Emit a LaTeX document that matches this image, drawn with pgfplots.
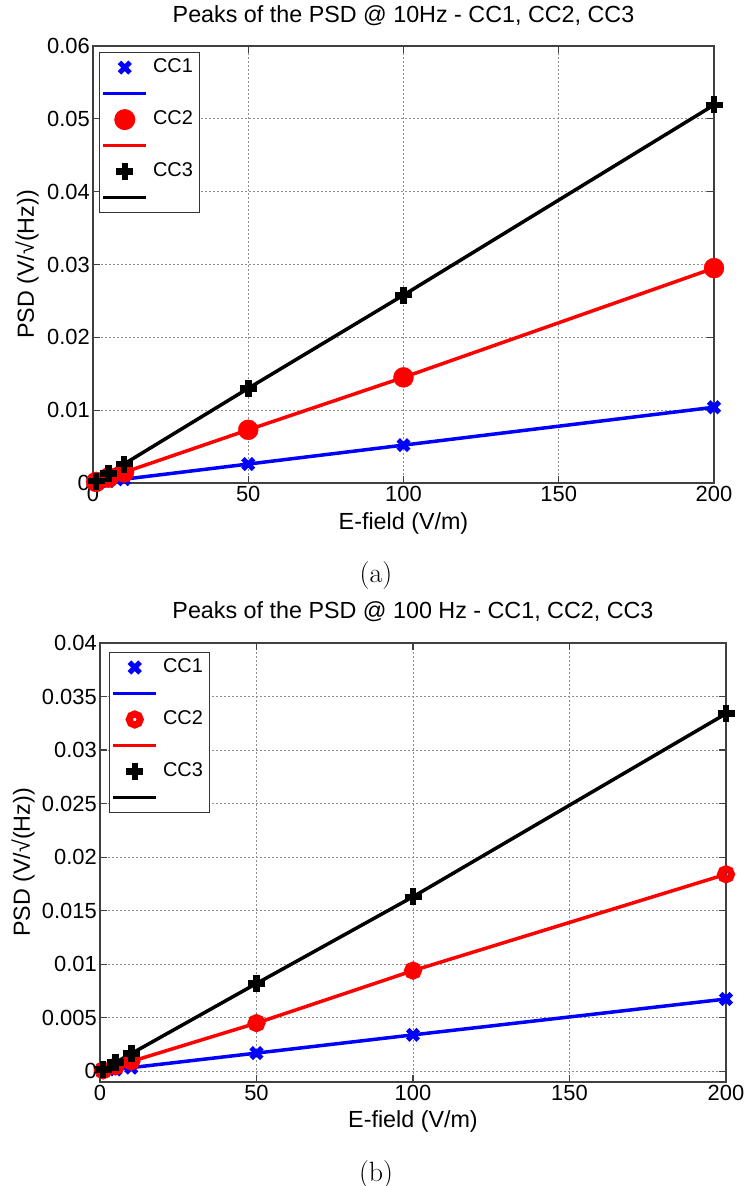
\documentclass[border=0pt]{standalone}
\usepackage{pgfplots}
\pgfplotsset{compat=1.18}
\usepackage{fontspec}
\newfontfamily\arialf{Liberation Sans}
\begin{document}
\begin{tikzpicture}
\useasboundingbox (0bp,0bp) rectangle (747bp,1186bp);
\pgfplotsset{
  mleg/.style={legend image code/.code={\draw[##1] plot coordinates {(21.5bp,0bp)};}},
  lleg/.style={legend image code/.code={\draw[##1] (0bp,0bp) -- (43bp,0bp);}},
  matstyle/.style={
    scale only axis, clip=false,
    scaled ticks=false,
    font=\arialf\fontsize{23.4}{25}\selectfont,
    ticklabel style={font=\arialf\fontsize{22}{24}\selectfont},
    /pgf/number format/assume math mode=true,
    axis line style={black!75, line width=1.2bp},
    every tick/.style={black!75, line width=1.2bp},
    major tick length=7bp,
    tick align=inside,
    grid=major,
    major grid style={black!45, line width=1bp, dash pattern=on 1.5bp off 2.5bp},
    xmin=0, xmax=200, xtick={0,50,100,150,200},
    xticklabels={0,50,100,150,200},
    yticklabel style={inner xsep=3bp},
    xlabel={E-field (V/m)},
    ylabel={PSD (V/√(Hz))},
    legend cell align=left,
    legend style={draw=black!80, line width=1bp, font=\arialf\fontsize{20}{20}\selectfont,
      nodes={text height=14bp, text depth=4bp, inner ysep=4bp, inner xsep=5bp},
      row sep=0bp, inner sep=2bp, anchor=north west},
  },
}
% ---------- (a) ----------
\begin{axis}[matstyle,
  at={(93bp,703bp)}, anchor=south west, width=621bp, height=437bp,
  ymin=0, ymax=0.06,
  ytick={0,0.01,0.02,0.03,0.04,0.05,0.06},
  yticklabels={0,0.01,0.02,0.03,0.04,0.05,0.06},
  title={Peaks of the PSD @ 10Hz - CC1, CC2, CC3},
  title style={at={(0.5,1)}, anchor=center, yshift=24bp},
  xlabel style={at={(axis description cs:0.5,-0.0915)}, anchor=center},
  ylabel style={at={(axis description cs:-0.106,0.5)}, anchor=center},
  legend style={at={(axis description cs:0.0097,0.986)}},
]
\addplot[blue, line width=3.5bp, forget plot] coordinates {(1,0.00005) (5,0.00026) (10,0.00052) (50,0.0026) (100,0.0052) (200,0.0104)};
\addplot[red, line width=3.5bp, forget plot] coordinates {(1,0.00015) (5,0.00073) (10,0.00146) (50,0.0073) (100,0.0145) (200,0.0295)};
\addplot[black, line width=3.5bp, forget plot] coordinates {(1,0.00026) (5,0.0013) (10,0.0026) (50,0.013) (100,0.0258) (200,0.0519)};
\addplot[blue, only marks, mark=x, mark size=7.5bp, mark options={line width=5bp}, mleg] coordinates {(1,0.00005) (5,0.00026) (10,0.00052) (50,0.0026) (100,0.0052) (200,0.0104)};
\addlegendentry{CC1}
\addlegendimage{blue, line width=3.5bp, lleg}
\addlegendentry{}
\addplot[red, only marks, mark=*, mark size=10bp, mleg] coordinates {(1,0.00015) (5,0.00073) (10,0.00146) (50,0.0073) (100,0.0145) (200,0.0295)};
\addlegendentry{CC2}
\addlegendimage{red, line width=3.5bp, lleg}
\addlegendentry{}
\addplot[black, only marks, mark=+, mark size=8.5bp, mark options={line width=6.5bp}, mleg] coordinates {(1,0.00026) (5,0.0013) (10,0.0026) (50,0.013) (100,0.0258) (200,0.0519)};
\addlegendentry{CC3}
\addlegendimage{black, line width=3.5bp, lleg}
\addlegendentry{}
\end{axis}
\node[anchor=base, font=\fontsize{28}{30}\selectfont] at (376bp,603bp) {(a)};
% ---------- (b) ----------
\begin{axis}[matstyle,
  at={(100bp,104bp)}, anchor=south west, width=626bp, height=439bp,
  ymin=-0.001, ymax=0.04,
  ytick={0,0.005,0.01,0.015,0.02,0.025,0.03,0.035,0.04},
  yticklabels={0,0.005,0.01,0.015,0.02,0.025,0.03,0.035,0.04},
  title={Peaks of the PSD @ 100 Hz - CC1, CC2, CC3},
  title style={at={(0.5,1)}, anchor=center, yshift=25bp},
  xlabel style={at={(axis description cs:0.5,-0.091)}, anchor=center},
  ylabel style={at={(axis description cs:-0.123,0.5)}, anchor=center},
  legend style={at={(axis description cs:0.0144,0.9795)}},
]
\addplot[blue, line width=3.5bp, forget plot] coordinates {(1,0.000034) (5,0.00017) (10,0.00034) (50,0.0017) (100,0.0034) (200,0.00675)};
\addplot[red, line width=3.5bp, forget plot] coordinates {(1,0.000092) (5,0.00046) (10,0.00092) (50,0.0045) (100,0.0094) (200,0.0184)};
\addplot[black, line width=3.5bp, forget plot] coordinates {(1,0.00017) (5,0.00083) (10,0.00165) (50,0.0082) (100,0.0163) (200,0.0334)};
\addplot[blue, only marks, mark=x, mark size=7.5bp, mark options={line width=5bp}, mleg] coordinates {(1,0.000034) (5,0.00017) (10,0.00034) (50,0.0017) (100,0.0034) (200,0.00675)};
\addlegendentry{CC1}
\addlegendimage{blue, line width=3.5bp, lleg}
\addlegendentry{}
\addplot[red, only marks, mark=o, mark size=5.5bp, mark options={line width=7bp}, mleg] coordinates {(1,0.000092) (5,0.00046) (10,0.00092) (50,0.0045) (100,0.0094) (200,0.0184)};
\addlegendentry{CC2}
\addlegendimage{red, line width=3.5bp, lleg}
\addlegendentry{}
\addplot[black, only marks, mark=+, mark size=8.5bp, mark options={line width=6.5bp}, mleg] coordinates {(1,0.00017) (5,0.00083) (10,0.00165) (50,0.0082) (100,0.0163) (200,0.0334)};
\addlegendentry{CC3}
\addlegendimage{black, line width=3.5bp, lleg}
\addlegendentry{}
\end{axis}
\node[anchor=base, font=\fontsize{28}{30}\selectfont] at (376bp,5bp) {(b)};
\end{tikzpicture}
\end{document}
